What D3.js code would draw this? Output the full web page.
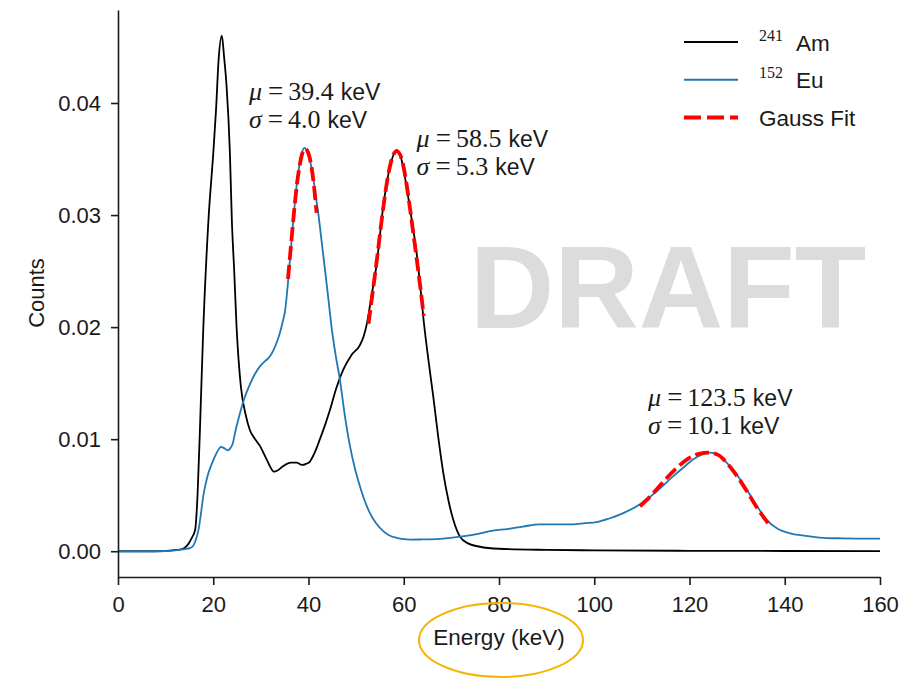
<!DOCTYPE html>
<html>
<head>
<meta charset="utf-8">
<script src="https://cdn.jsdelivr.net/npm/d3@7"></script>
<style>
body { margin: 0; background: #fff; }
svg { display: block; }
</style>
</head>
<body>
<script>
// 241Am spectrum (energy keV, normalised counts)
var am_energy = [0, 5, 10, 12, 13.5, 14.5, 15.5, 16.2, 16.7, 17.2, 17.9, 19.0, 20.0, 20.6, 21.1, 21.8, 22.3, 22.8, 23.5, 23.9, 24.4, 24.9, 25.8, 26.8, 27.7, 28.8, 29.8, 31.2, 32.8, 33.5, 34.7, 36.3, 37.5, 38.6, 39.5, 40.3, 41.3, 42.4, 43.5, 44.5, 45.8, 47.3, 49.0, 50.8, 51.6, 52.2, 53.2, 54.3, 55.7, 57.1, 58.5, 59.5, 60.6, 61.6, 62.7, 63.5, 64.2, 65.2, 66.2, 67.3, 68.3, 69.4, 70.4, 71.8, 73.5, 76, 80, 90, 100, 120, 140, 160];
var am_counts = [0, 0, 0.00002, 0.0001, 0.0002, 0.0005, 0.0012, 0.0019, 0.005, 0.0108, 0.0198, 0.0296, 0.0355, 0.0395, 0.0437, 0.0460, 0.0440, 0.0415, 0.0355, 0.0296, 0.025, 0.0200, 0.0147, 0.0122, 0.0108, 0.0100, 0.0094, 0.0082, 0.0071, 0.0072, 0.0076, 0.0079, 0.0079, 0.0077, 0.0078, 0.0080, 0.0088, 0.0100, 0.0113, 0.0126, 0.0145, 0.0162, 0.0175, 0.0184, 0.0192, 0.0202, 0.0227, 0.0256, 0.0308, 0.0343, 0.0358, 0.0350, 0.0325, 0.0298, 0.0266, 0.0235, 0.0205, 0.0170, 0.0138, 0.0100, 0.0070, 0.0045, 0.0028, 0.0013, 0.0007, 0.0004, 0.00022, 0.00012, 0.00008, 0.00004, 0.00002, 0.00001];

// 152Eu spectrum
var eu_energy = [0, 5, 10, 12, 14, 15.2, 15.8, 16.4, 16.9, 17.4, 17.9, 18.4, 19.0, 19.7, 20.4, 21.0, 21.6, 22.3, 23.0, 23.6, 24.0, 24.8, 25.6, 26.5, 27.4, 28.6, 29.8, 31.0, 31.9, 32.7, 33.3, 34.0, 34.6, 35.1, 35.8, 36.5, 37.3, 38.0, 38.6, 39.1, 39.7, 40.3, 41.0, 41.6, 42.1, 42.8, 43.5, 44.2, 44.9, 45.7, 46.6, 47.6, 48.7, 49.8, 50.8, 51.8, 52.9, 54.2, 55.7, 57.0, 58.5, 60, 61.3, 64, 67.6, 71.8, 75, 78.1, 82, 85, 88.6, 92, 95.6, 98, 100.5, 103, 106.1, 109.6, 113, 116.6, 118.8, 120.8, 122.5, 124.3, 126, 127.8, 130, 132.0, 134.2, 136.2, 138.5, 141.1, 144, 148.1, 152, 156, 160];
var eu_counts = [0, 0, 0.00002, 0.00008, 0.00018, 0.0003, 0.0005, 0.0011, 0.0019, 0.0033, 0.0049, 0.0060, 0.0070, 0.0078, 0.0085, 0.0090, 0.0093, 0.0092, 0.0090, 0.0092, 0.0095, 0.0110, 0.0123, 0.0136, 0.0146, 0.0157, 0.0165, 0.0170, 0.0174, 0.0180, 0.0186, 0.0195, 0.0205, 0.0215, 0.0245, 0.0280, 0.0318, 0.0342, 0.0355, 0.0360, 0.0357, 0.0349, 0.0333, 0.0315, 0.0300, 0.0275, 0.0250, 0.0224, 0.0198, 0.0175, 0.0153, 0.0122, 0.0094, 0.0073, 0.0058, 0.0045, 0.0034, 0.0025, 0.0018, 0.0014, 0.0012, 0.00108, 0.00104, 0.00105, 0.0011, 0.0013, 0.0015, 0.0018, 0.0020, 0.0022, 0.0024, 0.0024, 0.0024, 0.0025, 0.0026, 0.0029, 0.0034, 0.0042, 0.0053, 0.0067, 0.0075, 0.0082, 0.0086, 0.0088, 0.0086, 0.0079, 0.0068, 0.0055, 0.0040, 0.0028, 0.0020, 0.0016, 0.0014, 0.0012, 0.00115, 0.00113, 0.00112];

// gauss fits
var fit1_energy = [35.7, 36.3, 36.9, 37.5, 38.1, 38.7, 39.3, 39.9, 40.5, 41.1, 41.7];
var fit1_counts = [0.0243, 0.0272, 0.0300, 0.0325, 0.0343, 0.0355, 0.0359, 0.0356, 0.0346, 0.0328, 0.0302];
var fit2_energy = [52.6, 53.5, 54.5, 55.5, 56.5, 57.5, 58.5, 59.5, 60.5, 61.5, 62.5, 63.5, 64.2];
var fit2_counts = [0.0203, 0.0232, 0.0265, 0.0300, 0.0330, 0.0350, 0.0357, 0.0351, 0.0330, 0.0300, 0.0268, 0.0235, 0.0210];
var fit3_energy = [109.6, 112, 114.5, 117, 119.5, 122, 124, 126, 128, 130, 132, 134, 136.5];
var fit3_counts = [0.0040, 0.0050, 0.0062, 0.0073, 0.0082, 0.0087, 0.0088, 0.0086, 0.0078, 0.0067, 0.0054, 0.0040, 0.0025];

// annotations: anchor (keV, counts) and fit params
var ann_x = [27.5, 62.7, 111.3];
var ann_y = [0.0403, 0.0361, 0.0130];
var ann_mu = ["39.4", "58.5", "123.5"];
var ann_sigma = ["4.0", "5.3", "10.1"];

var x_ticks = [0, 20, 40, 60, 80, 100, 120, 140, 160];
var y_ticks = [0.00, 0.01, 0.02, 0.03, 0.04];

var legend_names = [["241", "Am"], ["152", "Eu"], ["", "Gauss Fit"]];

var SANS = "'Liberation Sans', Arial, sans-serif";
var SERIF = "'Liberation Serif', 'DejaVu Serif', serif";

var width = 918, height = 680;

var svg = d3.select("body").append("svg")
	.attr("width", width)
	.attr("height", height);

var x = d3.scaleLinear().domain([0, 160]).range([118, 880]);
var y = d3.scaleLinear().domain([-0.0023, 0.0483]).range([577, 10]);

function zip(xs, ys) {
	var out = [];
	for (var i = 0; i < xs.length; i++) out.push([xs[i], ys[i]]);
	return out;
}

// watermark
svg.append("text")
	.attr("x", 668)
	.attr("y", 328)
	.attr("text-anchor", "middle")
	.style("font-family", SANS)
	.style("font-weight", "bold")
	.style("font-size", "117px")
	.style("fill", "#dcdcdc")
	.text("DRAFT");

var line = d3.line()
	.x(function(d) { return x(d[0]); })
	.y(function(d) { return y(d[1]); })
	.curve(d3.curveMonotoneX);

var g = svg.append("g");

g.append("path")
	.datum(zip(am_energy, am_counts))
	.attr("d", line)
	.attr("fill", "none")
	.attr("stroke", "#000")
	.attr("stroke-width", 1.8);

g.append("path")
	.datum(zip(eu_energy, eu_counts))
	.attr("d", line)
	.attr("fill", "none")
	.attr("stroke", "#1f77b4")
	.attr("stroke-width", 1.8);

var fits = [zip(fit1_energy, fit1_counts), zip(fit2_energy, fit2_counts), zip(fit3_energy, fit3_counts)];
g.selectAll("path.fit")
	.data(fits)
	.enter().append("path")
	.attr("class", "fit")
	.attr("d", line)
	.attr("fill", "none")
	.attr("stroke", "#ff0000")
	.attr("stroke-width", 3.8)
	.attr("stroke-dasharray", "14,5");

// axes
var xAxis = d3.axisBottom(x).tickValues(x_ticks).tickSize(8).tickSizeOuter(0).tickPadding(11)
	.tickFormat(d3.format("d"));
var yAxis = d3.axisLeft(y).tickValues(y_ticks).tickSize(7).tickSizeOuter(0).tickPadding(10)
	.tickFormat(d3.format(".2f"));

var gx = svg.append("g").attr("transform", "translate(0,577)").call(xAxis);
var gy = svg.append("g").attr("transform", "translate(118,0)").call(yAxis);

[gx, gy].forEach(function(a) {
	a.selectAll("path, line").attr("stroke", "#1a1a1a").attr("stroke-width", 1.6);
	a.selectAll("text").style("font-family", SANS).style("font-size", "22px").attr("fill", "#1a1a1a");
});

svg.append("text")
	.attr("x", 499)
	.attr("y", 645)
	.attr("text-anchor", "middle")
	.style("font-family", SANS)
	.style("font-size", "22.5px")
	.style("fill", "#1a1a1a")
	.text("Energy (keV)");

svg.append("text")
	.attr("transform", "translate(44,293) rotate(-90)")
	.attr("text-anchor", "middle")
	.style("font-family", SANS)
	.style("font-size", "22px")
	.style("fill", "#1a1a1a")
	.text("Counts");

// highlight ellipse round the x label
svg.append("ellipse")
	.attr("cx", 501)
	.attr("cy", 640)
	.attr("rx", 82)
	.attr("ry", 37)
	.attr("fill", "none")
	.attr("stroke", "#f5b400")
	.attr("stroke-width", 2);

// annotations
function mathLine(sel, sym, val) {
	sel.append("tspan").style("font-family", SERIF).style("font-style", "italic").style("font-size", "26px").text(sym);
	sel.append("tspan").attr("dx", 6).style("font-family", SERIF).style("font-size", "27px").text("=");
	sel.append("tspan").attr("dx", 5).style("font-family", SERIF).style("font-size", "26px").text(val);
	sel.append("tspan").attr("dx", 7).style("font-family", SANS).style("font-size", "23px").text("keV");
}

for (var i = 0; i < ann_x.length; i++) {
	var t1 = svg.append("text")
		.attr("x", x(ann_x[i]))
		.attr("y", y(ann_y[i]))
		.style("fill", "#1a1a1a");
	mathLine(t1, "\u03bc", ann_mu[i]);
	var t2 = svg.append("text")
		.attr("x", x(ann_x[i]))
		.attr("y", y(ann_y[i]) + 28)
		.style("fill", "#1a1a1a");
	mathLine(t2, "\u03c3", ann_sigma[i]);
}

// legend
var leg = svg.append("g");
var legStyles = [
	{ c: "#000", w: 2.2, dash: null },
	{ c: "#1f77b4", w: 2, dash: null },
	{ c: "#ff0000", w: 4, dash: "17,6" }
];
for (var j = 0; j < legend_names.length; j++) {
	var ly = 42 + j * 37.8;
	leg.append("line")
		.attr("x1", 684).attr("x2", 738)
		.attr("y1", ly).attr("y2", ly)
		.attr("stroke", legStyles[j].c)
		.attr("stroke-width", legStyles[j].w)
		.attr("stroke-dasharray", legStyles[j].dash);
	var lt = leg.append("text")
		.attr("x", 759)
		.attr("y", ly + 8.5)
		.style("font-size", "22.5px")
		.style("fill", "#1a1a1a");
	if (legend_names[j][0]) {
		lt.append("tspan").attr("dy", -10).style("font-family", SERIF).style("font-size", "16px").text(legend_names[j][0]);
		lt.append("tspan").attr("dy", 10).attr("dx", 13).style("font-family", SANS).text(legend_names[j][1]);
	} else {
		lt.append("tspan").style("font-family", SANS).text(legend_names[j][1]);
	}
}
</script>
</body>
</html>
